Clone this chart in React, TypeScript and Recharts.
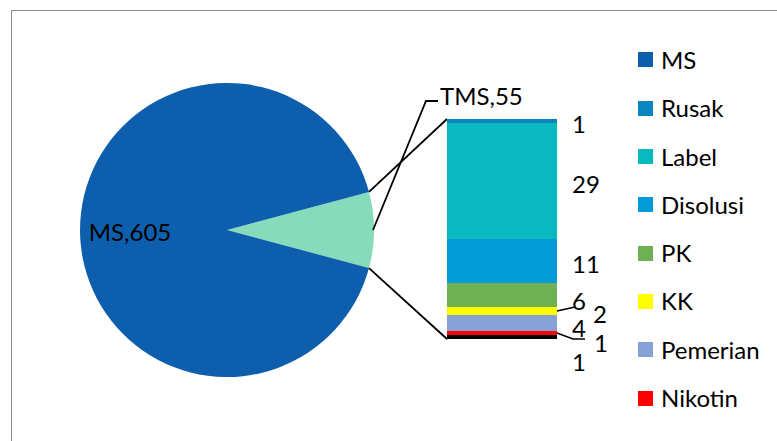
import React from 'react';
import { PieChart, Pie, Cell, BarChart, Bar, XAxis, YAxis, LabelList } from 'recharts';

// main pie: sample memenuhi syarat vs tidak memenuhi syarat
const pieNames = ['TMS', 'MS'];
const pieValues = [55, 605];
const pieColors = ['#86DBBA', '#0D5FAD'];

// breakdown of TMS, bottom to top of the stacked bar
const tmsParts = ['Lainnya', 'Nikotin', 'Pemerian', 'KK', 'PK', 'Disolusi', 'Label', 'Rusak'];
const tmsValues = [1, 1, 4, 2, 6, 11, 29, 1];
const tmsColors = ['#000000', '#FF0000', '#86A1D6', '#FFFF00', '#6EB152', '#039AD8', '#0AB8BF', '#0B85BD'];

const legendNames = ['MS', 'Rusak', 'Label', 'Disolusi', 'PK', 'KK', 'Pemerian', 'Nikotin'];

const FONT = 'Lato, "Open Sans", sans-serif';
const FS = 24;
const W = 777;
const H = 441;

const PIE_CX = 227;
const PIE_CY = 230;
const PIE_R = 147;

const BAR_LEFT = 447;
const BAR_TOP = 119;
const BAR_W = 110;
const BAR_H = 220;

// label nudges for the crowded bottom of the bar
const labelNudge: Record<string, { dx: number; dy: number; leader?: 'up' | 'down' }> = {
  KK: { dx: 21, dy: 0, leader: 'up' },
  Nikotin: { dx: 22, dy: 7, leader: 'down' },
  Lainnya: { dx: 0, dy: 22 },
  PK: { dx: 0, dy: 3 },
  Pemerian: { dx: 0, dy: 2 },
};

const pieData = pieNames.map((name, i) => ({ name, value: pieValues[i] }));
const barRow: Record<string, number | string> = { name: 'TMS' };
tmsParts.forEach((p, i) => (barRow[p] = tmsValues[i]));
const barData = [barRow];
const tmsTotal = tmsValues.reduce((a, b) => a + b, 0);

const colorOf = (name: string) => {
  const i = pieNames.indexOf(name);
  if (i >= 0) return pieColors[i];
  return tmsColors[tmsParts.indexOf(name)];
};

const RAD = Math.PI / 180;
const polar = (cx: number, cy: number, r: number, deg: number) => ({
  x: cx + r * Math.cos(-deg * RAD),
  y: cy + r * Math.sin(-deg * RAD),
});

function renderPieLabel(props: any) {
  const { cx, cy, midAngle, outerRadius, index } = props;
  const name = pieNames[index];
  const value = pieValues[index];
  if (name === 'MS') {
    const p = polar(cx, cy, outerRadius * 0.66, midAngle);
    return (
      <text x={p.x} y={p.y + 1} textAnchor="middle" dominantBaseline="central" fill="#000" fontSize={FS} fontFamily={FONT}>
        {`${name},${value}`}
      </text>
    );
  }
  const start = polar(cx, cy, outerRadius - 1, midAngle);
  const elbow = { x: start.x + 53, y: start.y - 129 };
  const end = { x: elbow.x + 12, y: elbow.y };
  return (
    <g>
      <polyline
        points={`${start.x},${start.y} ${elbow.x},${elbow.y} ${end.x},${end.y}`}
        fill="none"
        stroke="#000"
        strokeWidth={1.8}
      />
      <text x={end.x + 2} y={end.y - 6} dominantBaseline="central" fill="#000" fontSize={FS} fontFamily={FONT}>
        {`${name},${value}`}
      </text>
    </g>
  );
}

function makeBarLabel(part: string) {
  return (props: any) => {
    const { x, y, width, height, value } = props;
    const nudge = labelNudge[part] || { dx: 0, dy: 0 };
    const xr = Number(x) + Number(width);
    const yc = Number(y) + Number(height) / 2;
    let leader = null;
    if (nudge.leader === 'up') {
      leader = <line x1={xr} y1={yc} x2={xr + 18} y2={yc - 4} stroke="#000" strokeWidth={1.5} />;
    } else if (nudge.leader === 'down') {
      leader = (
        <polyline
          points={`${xr},${yc} ${xr + 16},${yc + 6} ${xr + 28},${yc + 6}`}
          fill="none"
          stroke="#000"
          strokeWidth={1.5}
        />
      );
    }
    return (
      <g>
        {leader}
        <text
          x={xr + 15 + nudge.dx}
          y={yc + 2 + nudge.dy}
          dominantBaseline="central"
          fill="#000"
          fontSize={FS}
          fontFamily={FONT}
        >
          {value}
        </text>
      </g>
    );
  };
}

export default function App() {
  const top = polar(PIE_CX, PIE_CY, PIE_R, 15);
  const bottom = polar(PIE_CX, PIE_CY, PIE_R, -15);
  const rowH = 48.3;

  return (
    <div
      style={{
        position: 'absolute',
        left: 0,
        top: 0,
        width: W,
        height: H,
        overflow: 'hidden',
        background: '#fff',
        fontFamily: FONT,
      }}
    >
      {/* chart area frame, cut off at right and bottom like the source */}
      <div
        style={{
          position: 'absolute',
          left: 11,
          top: 10,
          width: 900,
          height: 600,
          border: '1.5px solid #8a8a8a',
        }}
      />

      <div style={{ position: 'absolute', left: 0, top: 0 }}>
        <PieChart width={W} height={H} margin={{ top: 0, right: 0, bottom: 0, left: 0 }}>
          <Pie
            data={pieData}
            dataKey="value"
            nameKey="name"
            cx={PIE_CX}
            cy={PIE_CY}
            outerRadius={PIE_R}
            startAngle={-15}
            endAngle={345}
            stroke="none"
            label={renderPieLabel}
            labelLine={false}
            isAnimationActive={false}
          >
            {pieData.map((d) => (
              <Cell key={d.name} fill={colorOf(d.name)} />
            ))}
          </Pie>
        </PieChart>
      </div>

      {/* connector lines between the TMS slice and the breakdown bar */}
      <svg width={W} height={H} style={{ position: 'absolute', left: 0, top: 0, pointerEvents: 'none' }}>
        <line x1={top.x} y1={top.y} x2={BAR_LEFT} y2={BAR_TOP} stroke="#000" strokeWidth={1.8} />
        <line x1={bottom.x} y1={bottom.y} x2={BAR_LEFT} y2={BAR_TOP + BAR_H} stroke="#000" strokeWidth={1.8} />
      </svg>

      <div style={{ position: 'absolute', left: BAR_LEFT, top: BAR_TOP - 20 }}>
        <BarChart
          width={BAR_W + 90}
          height={BAR_H + 60}
          data={barData}
          margin={{ top: 20, right: 90, bottom: 40, left: 0 }}
          barCategoryGap={0}
          barGap={0}
        >
          <XAxis dataKey="name" hide />
          <YAxis hide domain={[0, tmsTotal]} />
          {tmsParts.map((p) => (
            <Bar key={p} dataKey={p} stackId="tms" fill={colorOf(p)} isAnimationActive={false}>
              <LabelList dataKey={p} content={makeBarLabel(p)} />
            </Bar>
          ))}
        </BarChart>
      </div>

      {/* legend */}
      <div style={{ position: 'absolute', left: 638, top: 60 - rowH / 2 }}>
        {legendNames.map((n) => (
          <div key={n} style={{ height: rowH, display: 'flex', alignItems: 'center' }}>
            <span style={{ width: 15, height: 15, background: colorOf(n), display: 'inline-block', marginRight: 8 }} />
            <span style={{ fontSize: FS, color: '#000', lineHeight: 1 }}>{n}</span>
          </div>
        ))}
      </div>
    </div>
  );
}
